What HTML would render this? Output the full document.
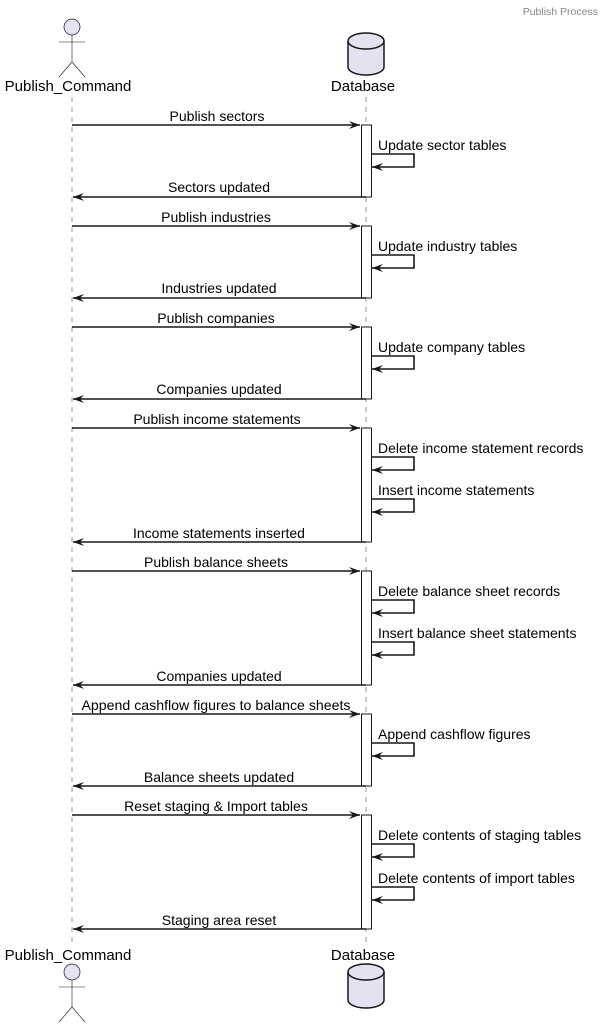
<!DOCTYPE html>
<html><head><meta charset="utf-8"><style>
html,body{margin:0;padding:0;background:#fff;}
svg{display:block;font-family:"Liberation Sans","DejaVu Sans",sans-serif;}
.m{font-size:14px;fill:#000;}
.n{font-size:15px;fill:#000;}
</style></head><body>
<svg width="605" height="1027" viewBox="0 0 605 1027" xmlns="http://www.w3.org/2000/svg">
<defs>
<marker id="a" markerWidth="12" markerHeight="10" refX="11" refY="5" orient="auto" markerUnits="userSpaceOnUse">
<polygon points="0,1 11,5 0,9 4,5" fill="#181818"/>
</marker>
</defs>
<text x="598" y="15" text-anchor="end" font-size="10.5" fill="#888">Publish Process</text>
<!-- lifelines -->
<line x1="72" y1="97" x2="72" y2="942" stroke="#555" stroke-width="0.6" stroke-dasharray="5,5"/>
<line x1="366" y1="97" x2="366" y2="942" stroke="#555" stroke-width="0.6" stroke-dasharray="5,5"/>
<!-- top actor -->
<g stroke="#181818" stroke-width="0.6" fill="none">
<circle cx="72" cy="27" r="8" fill="#E2E2F0" stroke-width="0.7"/>
<line x1="72" y1="35" x2="72" y2="62"/><line x1="59" y1="42" x2="85" y2="42"/>
<line x1="72" y1="62" x2="59" y2="77"/><line x1="72" y1="62" x2="85" y2="77"/>
</g>
<text x="68" y="91" text-anchor="middle" class="n">Publish_Command</text>
<!-- top db -->
<g stroke="#181818" stroke-width="1.5">
<path d="M348,41 A18,8 0 0 1 384,41 L384,67 A18,8 0 0 1 348,67 Z" fill="#E2E2F0"/>
<path d="M348,41 A18,8 0 0 0 384,41" fill="none"/>
</g>
<text x="363" y="91" text-anchor="middle" class="n">Database</text>
<!-- bottom -->
<text x="68" y="960" text-anchor="middle" class="n">Publish_Command</text>
<text x="363" y="960" text-anchor="middle" class="n">Database</text>
<g stroke="#181818" stroke-width="0.6" fill="none">
<circle cx="72" cy="972" r="8" fill="#E2E2F0" stroke-width="0.7"/>
<line x1="72" y1="980" x2="72" y2="1007"/><line x1="59" y1="987" x2="85" y2="987"/>
<line x1="72" y1="1007" x2="59" y2="1022"/><line x1="72" y1="1007" x2="85" y2="1022"/>
</g>
<g stroke="#181818" stroke-width="1.5">
<path d="M348,972 A18,8 0 0 1 384,972 L384,1000 A18,8 0 0 1 348,1000 Z" fill="#E2E2F0"/>
<path d="M348,972 A18,8 0 0 0 384,972" fill="none"/>
</g>
<!-- activations -->
<g fill="#fff" stroke="#181818" stroke-width="1">
<rect x="361.5" y="125" width="10" height="72"/>
<rect x="361.5" y="226" width="10" height="72"/>
<rect x="361.5" y="327" width="10" height="72"/>
<rect x="361.5" y="428" width="10" height="114"/>
<rect x="361.5" y="571" width="10" height="114"/>
<rect x="361.5" y="714" width="10" height="72"/>
<rect x="361.5" y="815" width="10" height="114"/>
</g>
<g stroke="#181818" stroke-width="1.6" fill="none" marker-end="url(#a)">
<line x1="72" y1="125" x2="360" y2="125"/>
<line x1="72" y1="226" x2="360" y2="226"/>
<line x1="72" y1="327" x2="360" y2="327"/>
<line x1="72" y1="428" x2="360" y2="428"/>
<line x1="72" y1="571" x2="360" y2="571"/>
<line x1="72" y1="714" x2="360" y2="714"/>
<line x1="72" y1="815" x2="360" y2="815"/>
<line x1="366" y1="197" x2="73" y2="197"/>
<line x1="366" y1="298" x2="73" y2="298"/>
<line x1="366" y1="399" x2="73" y2="399"/>
<line x1="366" y1="542" x2="73" y2="542"/>
<line x1="366" y1="685" x2="73" y2="685"/>
<line x1="366" y1="786" x2="73" y2="786"/>
<line x1="366" y1="929" x2="73" y2="929"/>
<polyline points="372,154 414,154 414,167 372,167"/>
<polyline points="372,255 414,255 414,268 372,268"/>
<polyline points="372,356 414,356 414,369 372,369"/>
<polyline points="372,457 414,457 414,470 372,470"/>
<polyline points="372,499 414,499 414,512 372,512"/>
<polyline points="372,600 414,600 414,613 372,613"/>
<polyline points="372,642 414,642 414,655 372,655"/>
<polyline points="372,743 414,743 414,756 372,756"/>
<polyline points="372,844 414,844 414,857 372,857"/>
<polyline points="372,887 414,887 414,900 372,900"/>
</g>
<g class="m" text-anchor="middle">
<text x="217" y="121">Publish sectors</text>
<text x="219" y="192">Sectors updated</text>
<text x="216" y="222">Publish industries</text>
<text x="219" y="293">Industries updated</text>
<text x="216" y="323">Publish companies</text>
<text x="219" y="394">Companies updated</text>
<text x="217" y="424">Publish income statements</text>
<text x="219" y="538">Income statements inserted</text>
<text x="216" y="567">Publish balance sheets</text>
<text x="219" y="681">Companies updated</text>
<text x="216" y="710" textLength="269" lengthAdjust="spacingAndGlyphs">Append cashflow figures to balance sheets</text>
<text x="219" y="782">Balance sheets updated</text>
<text x="216" y="811">Reset staging &amp; Import tables</text>
<text x="219" y="925">Staging area reset</text>
</g>
<g class="m">
<text x="378" y="150">Update sector tables</text>
<text x="378" y="251">Update industry tables</text>
<text x="378" y="352">Update company tables</text>
<text x="378" y="453">Delete income statement records</text>
<text x="378" y="495">Insert income statements</text>
<text x="378" y="596">Delete balance sheet records</text>
<text x="378" y="638">Insert balance sheet statements</text>
<text x="378" y="739">Append cashflow figures</text>
<text x="378" y="840">Delete contents of staging tables</text>
<text x="378" y="883">Delete contents of import tables</text>
</g>
</svg>
</body></html>
